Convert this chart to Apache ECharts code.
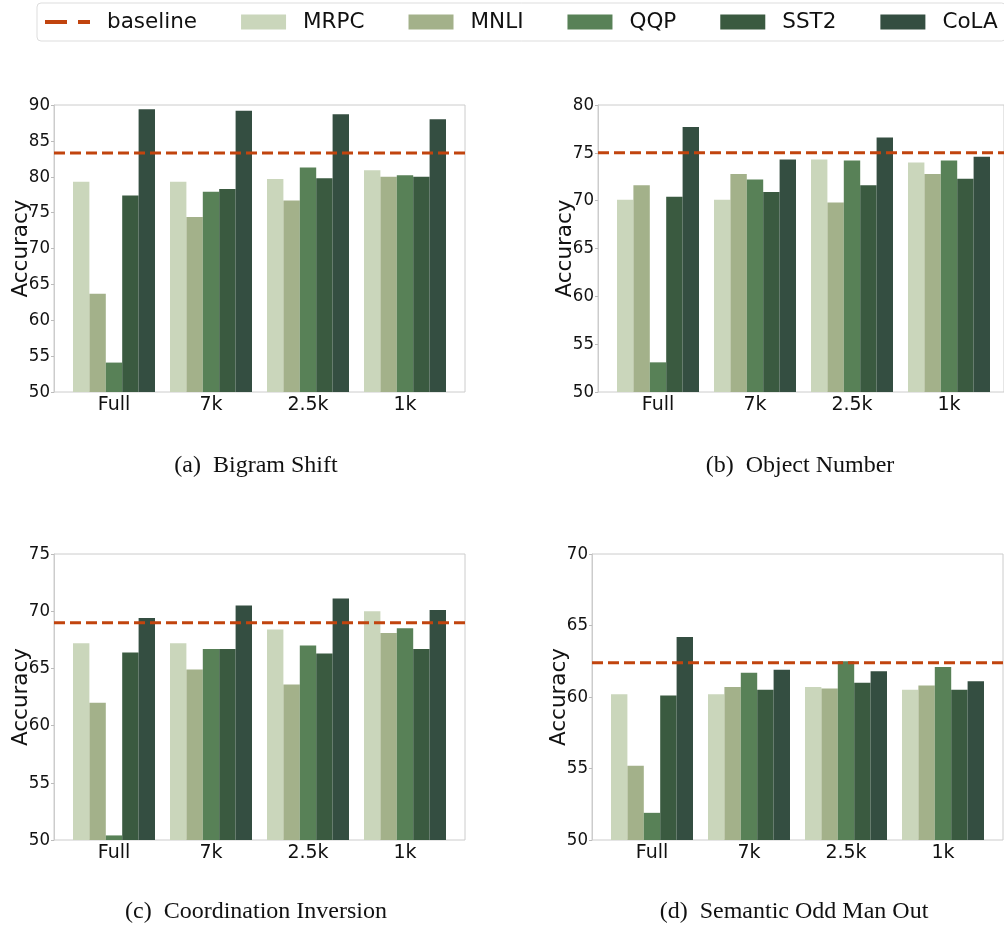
<!DOCTYPE html>
<html lang="en">
<head>
<meta charset="UTF-8">
<title>Probing accuracy</title>
<style>
  html, body { margin: 0; padding: 0; background: #fff; }
  #chart { width: 1004px; height: 933px; }
</style>
</head>
<body>
<div id="chart"></div>
<script src="https://cdn.jsdelivr.net/npm/echarts@6/dist/echarts.min.js"></script>
<script>
// ---- data ----
var categories = ['Full', '7k', '2.5k', '1k'];
var tasks = ['MRPC', 'MNLI', 'QQP', 'SST2', 'CoLA'];
var taskColors = ['#cad6bb', '#a3b18a', '#588157', '#3a5a40', '#344e41'];

// rows: MRPC, MNLI, QQP, SST2, CoLA ; columns follow categories
var bigramShift = [
    [79.3, 79.3, 79.7, 80.9],
    [63.7, 74.4, 76.7, 80.0],
    [54.1, 77.9, 81.3, 80.2],
    [77.4, 78.3, 79.8, 80.0],
    [89.4, 89.2, 88.7, 88.0]
];
var objectNumber = [
    [70.1, 70.1, 74.3, 74.0],
    [71.6, 72.8, 69.8, 72.8],
    [53.1, 72.2, 74.2, 74.2],
    [70.4, 70.9, 71.6, 72.3],
    [77.7, 74.3, 76.6, 74.6]
];
var coordInversion = [
    [67.2, 67.2, 68.4, 70.0],
    [62.0, 64.9, 63.6, 68.1],
    [50.4, 66.7, 67.0, 68.5],
    [66.4, 66.7, 66.3, 66.7],
    [69.4, 70.5, 71.1, 70.1]
];
var oddManOut = [
    [60.2, 60.2, 60.7, 60.5],
    [55.2, 60.7, 60.6, 60.8],
    [51.9, 61.7, 62.5, 62.1],
    [60.1, 60.5, 61.0, 60.5],
    [64.2, 61.9, 61.8, 61.1]
];
var baselines = [83.3, 75.0, 69.0, 62.4];
var yMin = [50, 50, 50, 50];
var yMax = [90, 80, 75, 70];
var panelTitles = ['(a)\u2002Bigram Shift', '(b)\u2002Object Number',
                   '(c)\u2002Coordination Inversion', '(d)\u2002Semantic Odd Man Out'];

var panels = [bigramShift, objectNumber, coordInversion, oddManOut];

// ---- layout ----
var frames = [
    { left: 54,  top: 105, width: 411, height: 287 },
    { left: 598, top: 105, width: 411, height: 287 },
    { left: 54,  top: 554, width: 411, height: 286 },
    { left: 592, top: 554, width: 411, height: 286 }
];
var titlePos = [[256, 466], [800, 466], [256, 912], [794, 912]];
var inset = 11.5;
var baseColor = '#c1440e';
var font = 'DejaVu Sans';
var tickFont = '"DejaVu Sans Condensed", "DejaVu Sans"';

var grids = [], xAxes = [], yAxes = [], series = [], graphics = [];

frames.forEach(function (f, p) {
    // frame grid: carries the visible y axis, border and the baseline
    grids.push({ left: f.left, top: f.top, width: f.width, height: f.height,
                 show: true, borderColor: '#cccccc', borderWidth: 1 });
    // bar grid: inset so category bands match the figure
    grids.push({ left: f.left + inset, top: f.top, width: f.width - 2 * inset, height: f.height });

    xAxes.push({ gridIndex: 2 * p, type: 'value', min: 0, max: 1, show: false });
    xAxes.push({
        gridIndex: 2 * p + 1, type: 'category', data: categories,
        axisLine: { show: false }, axisTick: { show: false },
        axisLabel: { fontFamily: font, fontSize: 19, color: '#111', margin: 4 }
    });
    yAxes.push({
        gridIndex: 2 * p, type: 'value', min: yMin[p], max: yMax[p], interval: 5,
        name: 'Accuracy', nameLocation: 'middle', nameGap: 22, nameMoveOverlap: false,
        nameTextStyle: { fontFamily: font, fontSize: 21.5, color: '#111' },
        axisLine: { show: true, lineStyle: { color: '#cccccc' } },
        axisTick: { show: true, length: 3, lineStyle: { color: '#bbbbbb' } },
        axisLabel: { fontFamily: tickFont, fontSize: 18.5, color: '#111', margin: 4 },
        splitLine: { show: false }
    });
    yAxes.push({ gridIndex: 2 * p + 1, type: 'value', min: yMin[p], max: yMax[p], show: false,
                 splitLine: { show: false } });

    panels[p].forEach(function (vals, t) {
        series.push({
            name: tasks[t], type: 'bar', xAxisIndex: 2 * p + 1, yAxisIndex: 2 * p + 1,
            data: vals, barWidth: 16.4, barGap: '0%',
            itemStyle: { color: taskColors[t] },
            silent: true
        });
    });

    series.push({
        name: 'baseline', type: 'line', xAxisIndex: 2 * p, yAxisIndex: 2 * p,
        data: [[0, baselines[p]], [1, baselines[p]]],
        showSymbol: false, symbol: 'none', z: 5, silent: true,
        itemStyle: { color: baseColor },
        lineStyle: { color: baseColor, width: 3, type: [11, 5] }
    });

    graphics.push({
        type: 'text', x: titlePos[p][0], y: titlePos[p][1],
        style: { text: panelTitles[p], fill: '#111', textAlign: 'center', textVerticalAlign: 'middle',
                 font: '24px "Liberation Serif"' }
    });
});

var legendData = [{ name: 'baseline', icon: 'path://M0,0H22V4H0Z M33,0H45V4H33Z' }];
tasks.forEach(function (t) { legendData.push({ name: t, icon: 'rect' }); });

var chart = echarts.init(document.getElementById('chart'), null, { renderer: 'canvas' });
chart.setOption({
    animation: false,
    backgroundColor: '#ffffff',
    legend: {
        data: legendData, left: 37, top: 3, width: 1200,
        orient: 'horizontal', padding: [8, 8],
        itemWidth: 45, itemHeight: 15, itemGap: 44,
        borderColor: '#dddddd', borderWidth: 1, borderRadius: 4,
        textStyle: { fontFamily: font, fontSize: 21.5, color: '#111', padding: [0, 0, 0, 12] }
    },
    grid: grids,
    xAxis: xAxes,
    yAxis: yAxes,
    series: series,
    graphic: graphics
});
</script>
</body>
</html>
